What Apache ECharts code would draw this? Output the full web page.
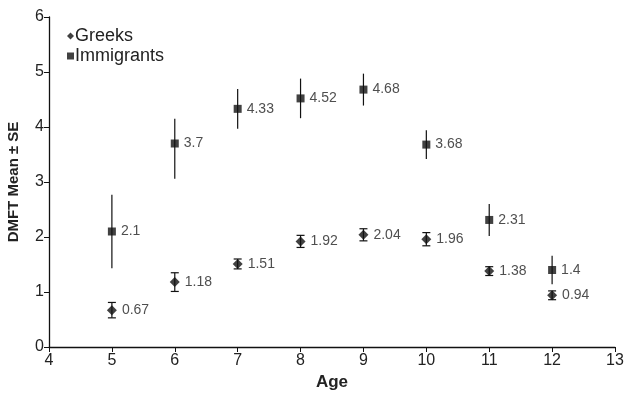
<!DOCTYPE html>
<html>
<head>
<meta charset="utf-8">
<script src="https://cdn.jsdelivr.net/npm/echarts@6/dist/echarts.min.js"></script>
<style>html,body{margin:0;padding:0;background:#fff}#c{width:627px;height:393px}</style>
</head>
<body>
<div id="c"></div>
<script>
const ages = [5, 6, 7, 8, 9, 10, 11, 12];
const greeksMean = [0.67, 1.18, 1.51, 1.92, 2.04, 1.96, 1.38, 0.94];
const greeksLow  = [0.53, 1.01, 1.42, 1.81, 1.93, 1.84, 1.30, 0.86];
const greeksHigh = [0.81, 1.35, 1.60, 2.03, 2.15, 2.08, 1.46, 1.02];
const immMean = [2.1, 3.7, 4.33, 4.52, 4.68, 3.68, 2.31, 1.4];
const immLow  = [1.43, 3.06, 3.97, 4.16, 4.39, 3.42, 2.02, 1.14];
const immHigh = [2.77, 4.15, 4.69, 4.88, 4.97, 3.94, 2.60, 1.66];
const xTicks = [4, 5, 6, 7, 8, 9, 10, 11, 12, 13];
const yTicks = [0, 1, 2, 3, 4, 5, 6];

const font = 'Liberation Sans, Arial, sans-serif';
const chart = echarts.init(document.getElementById('c'));

function errSeries(name, low, high, cap) {
  return {
    type: 'custom', name: name + ' SE', silent: true, z: 1,
    data: ages.map((a, i) => [a, low[i], high[i]]),
    renderItem: function (params, api) {
      const x = api.value(0);
      const p1 = api.coord([x, api.value(1)]);
      const p2 = api.coord([x, api.value(2)]);
      const st = { stroke: '#111', lineWidth: 1.2 };
      const children = [{ type: 'line', shape: { x1: p1[0], y1: p1[1], x2: p2[0], y2: p2[1] }, style: st }];
      if (cap) {
        children.push({ type: 'line', shape: { x1: p1[0] - 4, y1: p1[1], x2: p1[0] + 4, y2: p1[1] }, style: st });
        children.push({ type: 'line', shape: { x1: p2[0] - 4, y1: p2[1], x2: p2[0] + 4, y2: p2[1] }, style: st });
      }
      return { type: 'group', children: children };
    }
  };
}

const labelStyle = { show: true, position: 'right', distance: 5, color: '#222', fontSize: 14, fontFamily: font,
  formatter: p => String(p.value[1]) };

chart.setOption({
  animation: false,
  grid: { left: 49, right: 12, top: 17, bottom: 46, containLabel: false, outerBoundsMode: 'none' },
  legend: {
    orient: 'vertical', left: 62, top: 22, itemWidth: 7, itemHeight: 7, itemGap: 2,
    textStyle: { fontSize: 18, color: '#222', fontFamily: font, padding: [0, 0, 0, -4] },
    data: [{ name: 'Greeks', icon: 'diamond' }, { name: 'Immigrants', icon: 'rect' }]
  },
  xAxis: {
    type: 'value', min: xTicks[0], max: xTicks[xTicks.length - 1], interval: 1,
    name: 'Age', nameLocation: 'middle', nameGap: 27,
    nameTextStyle: { fontSize: 17, fontWeight: 'bold', color: '#222', fontFamily: font },
    axisLine: { show: true, lineStyle: { color: '#111', width: 1.3 } },
    axisTick: { show: true, inside: false, length: 5, lineStyle: { color: '#111' } },
    axisLabel: { fontSize: 16, color: '#222', fontFamily: font, margin: 6 },
    splitLine: { show: false }
  },
  yAxis: {
    type: 'value', min: yTicks[0], max: yTicks[yTicks.length - 1], interval: 1,
    name: 'DMFT Mean ± SE', nameLocation: 'middle', nameGap: 28,
    nameTextStyle: { fontSize: 15, fontWeight: 'bold', color: '#222', fontFamily: font },
    axisLine: { show: true, lineStyle: { color: '#111', width: 1.3 } },
    axisTick: { show: true, inside: false, length: 5, lineStyle: { color: '#111' } },
    axisLabel: { fontSize: 16, color: '#222', fontFamily: font, margin: 5 },
    splitLine: { show: false }
  },
  series: [
    errSeries('Greeks', greeksLow, greeksHigh, true),
    errSeries('Immigrants', immLow, immHigh, false),
    { type: 'scatter', name: 'Greeks', symbol: 'diamond', symbolSize: 10, z: 3,
      itemStyle: { color: '#111' }, label: labelStyle,
      data: ages.map((a, i) => [a, greeksMean[i]]) },
    { type: 'scatter', name: 'Immigrants', symbol: 'rect', symbolSize: 8, z: 3,
      itemStyle: { color: '#111' }, label: labelStyle,
      data: ages.map((a, i) => [a, immMean[i]]) }
  ]
});
</script>
</body>
</html>
